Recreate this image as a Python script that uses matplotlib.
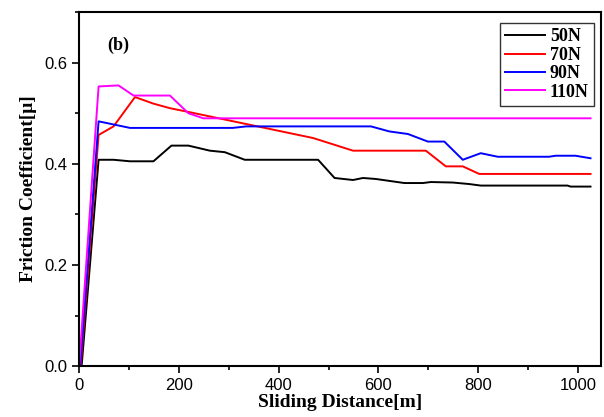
import matplotlib
matplotlib.use("Agg")
import matplotlib.pyplot as plt
from matplotlib.ticker import MultipleLocator, FormatStrFormatter

# Data
x_50 = [5, 39, 69, 102, 149, 185, 219, 262, 292, 332, 479, 512, 549, 569, 595, 652, 689, 705, 749, 782, 805, 979, 985, 1025]
y_50 = [0.0, 0.408, 0.408, 0.405, 0.405, 0.436, 0.436, 0.426, 0.423, 0.408, 0.408, 0.372, 0.368, 0.372, 0.370, 0.362, 0.362, 0.364, 0.363, 0.360, 0.357, 0.357, 0.355, 0.355]

x_70 = [3, 39, 69, 112, 149, 182, 222, 469, 549, 582, 695, 735, 769, 802, 1025]
y_70 = [0.0, 0.457, 0.474, 0.532, 0.519, 0.510, 0.502, 0.451, 0.426, 0.426, 0.426, 0.395, 0.395, 0.380, 0.380]

x_90 = [2, 39, 102, 308, 335, 585, 622, 659, 699, 732, 769, 805, 839, 942, 955, 995, 1025]
y_90 = [0.0, 0.484, 0.471, 0.471, 0.474, 0.474, 0.464, 0.459, 0.444, 0.444, 0.408, 0.421, 0.414, 0.414, 0.416, 0.416, 0.411]

x_110 = [0, 39, 79, 109, 182, 219, 249, 1025]
y_110 = [0.0, 0.553, 0.555, 0.535, 0.535, 0.500, 0.490, 0.490]

series_labels = ["50N", "70N", "90N", "110N"]
series_colors = ["black", "#ff0000", "#0000ff", "#ff00ff"]

serif = ['Liberation Serif', 'DejaVu Serif']

fig = plt.figure(figsize=(6.04, 4.17), dpi=100)
ax = fig.add_axes([0.131, 0.122, 0.864, 0.849])

for xs, ys, lab, col in zip([x_50, x_70, x_90, x_110], [y_50, y_70, y_90, y_110],
                            series_labels, series_colors):
    ax.plot(xs, ys, color=col, lw=1.4, label=lab)

ax.set_xlim(0, 1046)
ax.set_ylim(0, 0.70)
ax.xaxis.set_major_locator(MultipleLocator(200))
ax.xaxis.set_minor_locator(MultipleLocator(100))
ax.yaxis.set_major_locator(MultipleLocator(0.2))
ax.yaxis.set_minor_locator(MultipleLocator(0.1))
ax.yaxis.set_major_formatter(FormatStrFormatter('%.1f'))

for s in ax.spines.values():
    s.set_linewidth(1.5)
ax.tick_params(which='both', direction='out', width=1.2, labelsize=12,
               top=False, right=False)
ax.tick_params(which='major', length=5)
ax.tick_params(which='minor', length=3)
for lbl in ax.get_xticklabels() + ax.get_yticklabels():
    lbl.set_family(['Liberation Sans', 'DejaVu Sans'])

ax.set_xlabel("Sliding Distance[m]", fontsize=14, fontweight='bold',
              family=serif, labelpad=1)
ax.set_ylabel("Friction Coefficient[μ]", fontsize=14, fontweight='bold',
              family=serif, labelpad=5)

ax.text(0.054, 0.907, "(b)", transform=ax.transAxes, fontsize=13, fontweight='bold',
        family=serif, va='center', ha='left')

leg = ax.legend(loc='upper right', bbox_to_anchor=(0.9866, 0.969), frameon=True,
                fancybox=False,
                prop={'family': 'Liberation Serif', 'weight': 'bold', 'size': 13},
                handlelength=2.2, borderpad=0.3, labelspacing=0.08,
                handletextpad=0.25, borderaxespad=0.0)
leg.get_frame().set_edgecolor('black')
leg.get_frame().set_linewidth(1.0)

fig.savefig("out.png", dpi=100)
